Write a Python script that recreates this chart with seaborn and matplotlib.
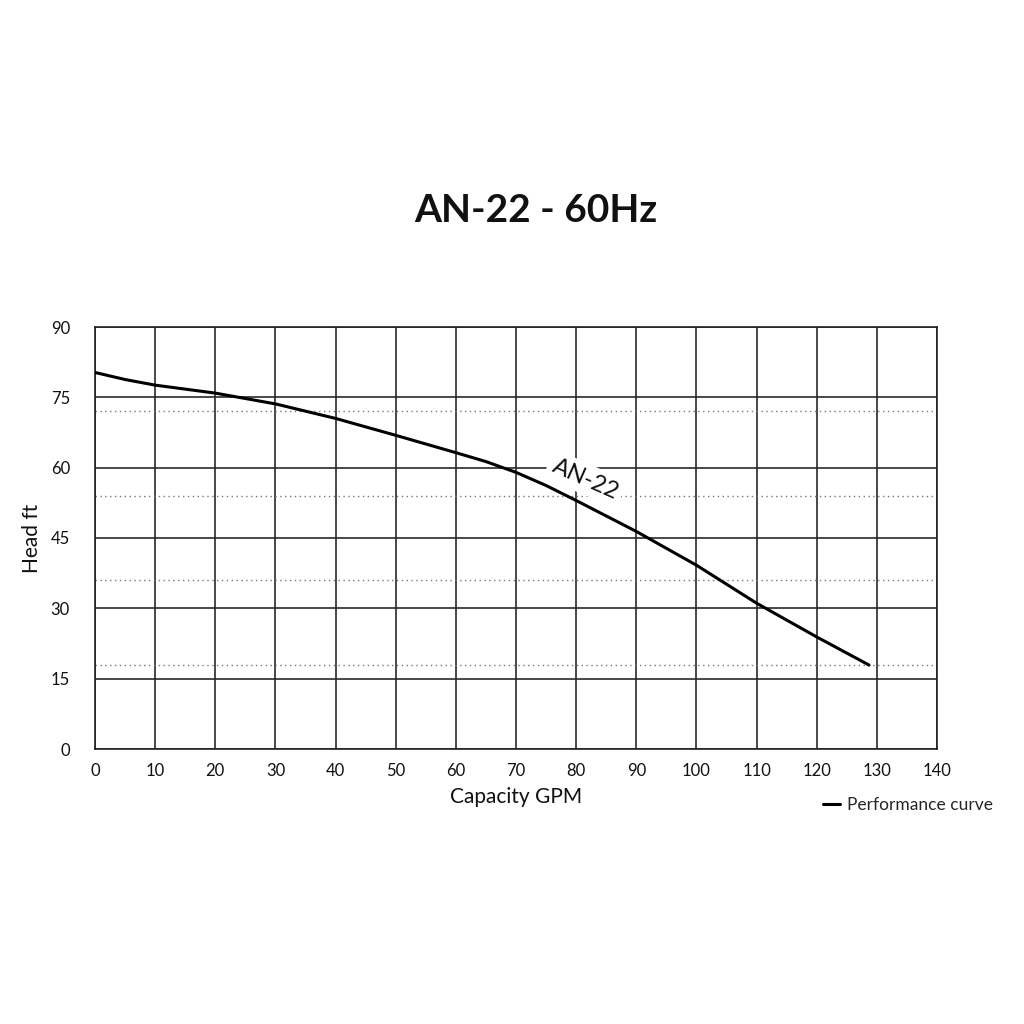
import matplotlib
matplotlib.use("Agg")
import matplotlib.pyplot as plt
import seaborn as sns
import pandas as pd

flow_gpm = [0, 5, 10, 20, 30, 40, 50, 60, 65, 70, 75, 80, 90, 100, 110, 120, 128.7]
head_ft = [80.3, 78.8, 77.6, 75.9, 73.6, 70.5, 66.9, 63.2, 61.3, 59.0, 56.2, 53.0, 46.4, 39.2, 31.1, 23.9, 17.9]
x_ticks = list(range(0, 141, 10))
y_ticks = list(range(0, 91, 15))
dotted_levels = [18, 36, 54, 72]
title = "AN-22 - 60Hz"
curve_label = "AN-22"
legend_label = "Performance curve"

sns.set_theme(style="white")
plt.rcParams['font.family'] = ['Lato', 'DejaVu Sans']

df = pd.DataFrame({"Capacity GPM": flow_gpm, "Head ft": head_ft})

fig = plt.figure(figsize=(10.24, 10.24), dpi=100)
ax = fig.add_axes([95/1024, 1 - 749/1024, 842/1024, 422/1024])

for lv in dotted_levels:
    ax.axhline(lv, color="#777777", lw=1.0, ls=(0, (1, 2.5)), zorder=1)

ax.set_xticks(x_ticks)
ax.set_yticks(y_ticks)
ax.grid(True, color="#2a2a2a", lw=1.2, zorder=1)
ax.set_axisbelow(True)

sns.lineplot(data=df, x="Capacity GPM", y="Head ft", ax=ax, color="black",
             lw=2.2, label=legend_label, legend=False, zorder=3)

ax.set_xlim(0, 140)
ax.set_ylim(0, 90)
for s in ax.spines.values():
    s.set_color("#222222")
    s.set_linewidth(1.2)

ax.tick_params(axis="y", length=6, width=1.1, color="#333333", labelsize=12, pad=12)
ax.tick_params(axis="x", length=0, labelsize=12, pad=10)
for lab in ax.get_xticklabels() + ax.get_yticklabels():
    lab.set_color("#111111")

ax.set_xlabel("Capacity GPM", fontsize=15, color="#111111", labelpad=6)
ax.set_ylabel("Head ft", fontsize=15, color="#111111", labelpad=6)

ax.text(81.5, 57.6, curve_label, rotation=-24, fontsize=17, ha="center", va="center",
        color="#111111", zorder=4,
        bbox=dict(boxstyle="square,pad=0.2", fc="white", ec="none"))

fig.text(0.523, 1 - 210/1024, title, fontsize=28, fontweight="bold",
         ha="center", va="center", color="#111111")

leg = fig.legend(loc="center right", bbox_to_anchor=(0.985, 1 - 805/1024), frameon=False,
                 handlelength=1.0, handletextpad=0.4, fontsize=12.5)
for h in leg.get_lines():
    h.set_linewidth(2.2)

fig.savefig("out.png", dpi=100, facecolor="white")
